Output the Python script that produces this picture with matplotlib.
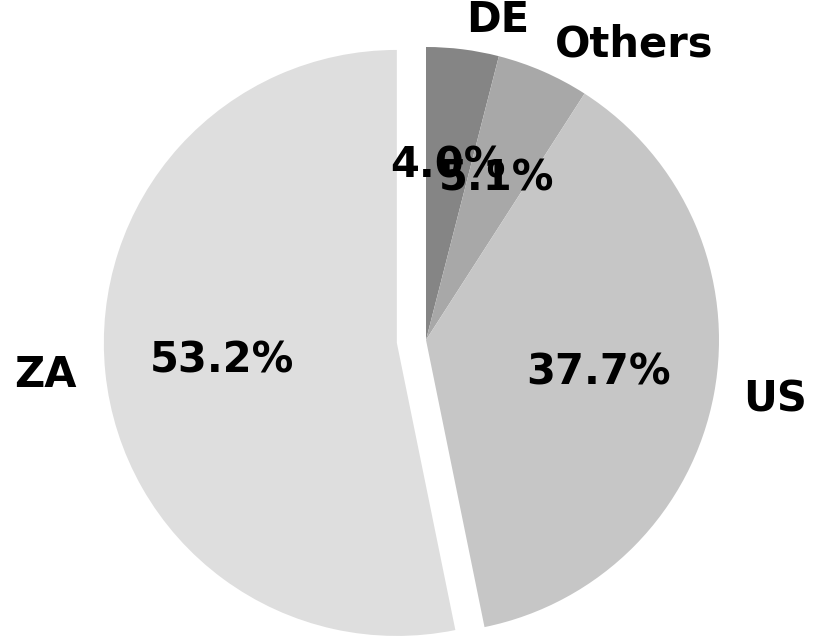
import matplotlib
matplotlib.use('Agg')
import matplotlib.pyplot as plt

labels = ['DE', 'Others', 'US', 'ZA']
shares = [4.0, 5.1, 37.7, 53.2]
colors = ['#858585', '#a8a8a8', '#c6c6c6', '#dedede']
explode = [0, 0, 0, 0.1]

fig = plt.figure(figsize=(8.23, 6.36), dpi=100)
ax = fig.add_axes([0, 0, 1, 1])

ax.pie(shares, labels=labels, colors=colors, explode=explode,
       autopct='%1.1f%%', startangle=90, counterclock=False,
       textprops={'fontsize': 30, 'fontweight': 'bold'})

# place the pie like the original (radius ~293 px, centre at 426,340)
r = 293.0
cx, cy = 426.0, 636 - 340.0
ax.set_xlim(-cx / r, (823 - cx) / r)
ax.set_ylim(-cy / r, (636 - cy) / r)
ax.set_aspect('equal')
ax.axis('off')

fig.savefig('out.png', dpi=100)
